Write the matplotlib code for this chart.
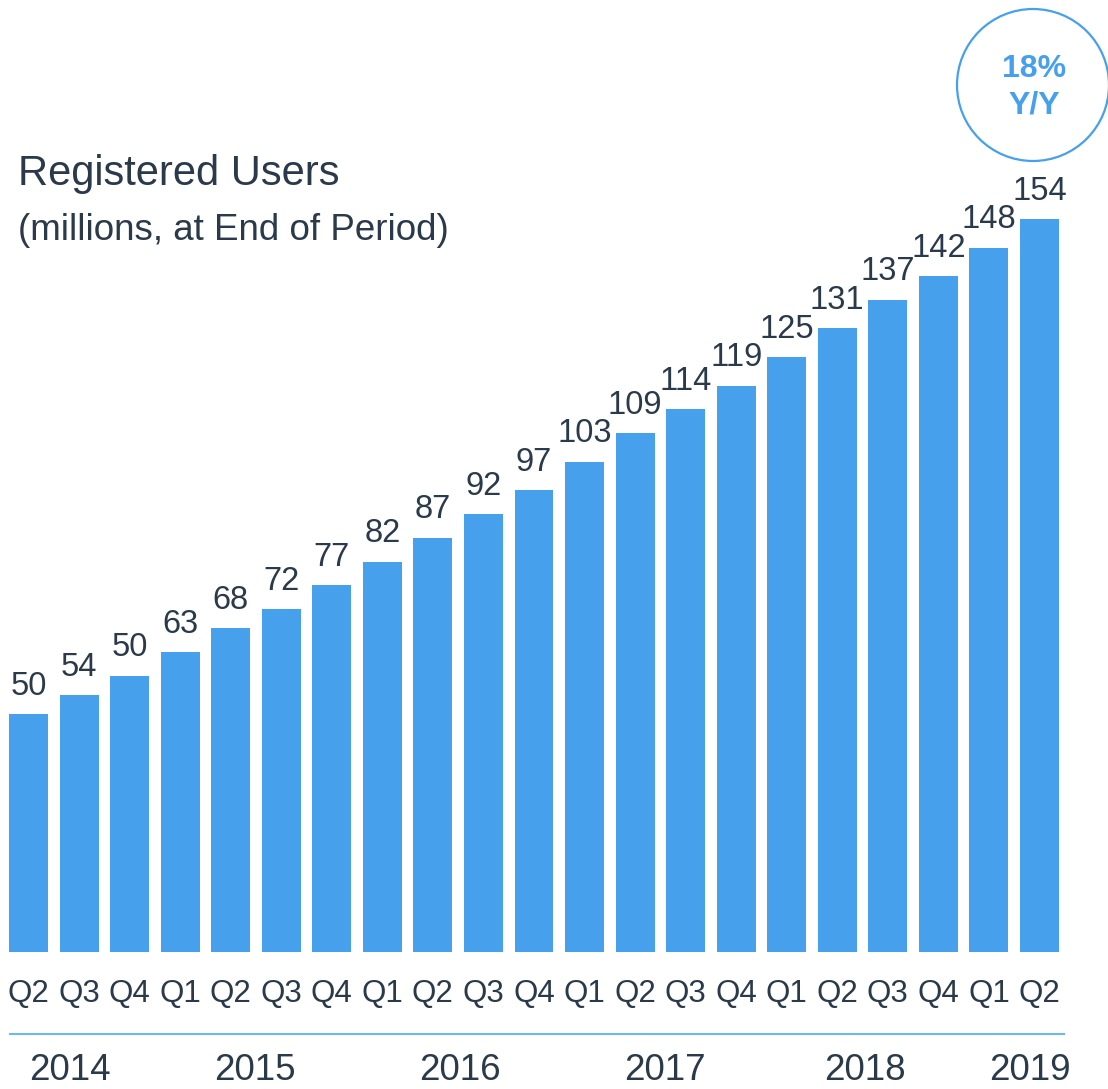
import matplotlib
matplotlib.use("Agg")
import matplotlib.pyplot as plt
from matplotlib.patches import Ellipse
from matplotlib.lines import Line2D

# bar heights (the 3rd bar is drawn taller than its "50" label)
quarters = ["Q2", "Q3", "Q4", "Q1", "Q2", "Q3", "Q4", "Q1", "Q2", "Q3", "Q4",
            "Q1", "Q2", "Q3", "Q4", "Q1", "Q2", "Q3", "Q4", "Q1", "Q2"]
heights = [50, 54, 58, 63, 68, 72, 77, 82, 87, 92, 97,
           103, 109, 114, 119, 125, 131, 137, 142, 148, 154]
value_labels = ["50", "54", "50", "63", "68", "72", "77", "82", "87", "92", "97",
                "103", "109", "114", "119", "125", "131", "137", "142", "148", "154"]
years = ["2014", "2015", "2016", "2017", "2018", "2019"]
year_pos = [0.82, 4.48, 8.54, 12.59, 16.55, 19.81]

BLUE = "#47A0EC"
TEXT = "#2B3A4A"
W, H = 1108, 1089

plt.rcParams["font.family"] = ["Liberation Sans", "DejaVu Sans"]

fig = plt.figure(figsize=(W / 100, H / 100), dpi=100)
base = 952  # baseline pixel row from top
ax = fig.add_axes([0, (H - base) / H, 1, base / H])

x = list(range(len(heights)))
ax.bar(x, heights, width=0.77, color=BLUE)
for xi, h, lab in zip(x, heights, value_labels):
    ax.annotate(lab, (xi, h), xytext=(0, 14), textcoords="offset points",
                ha="center", va="baseline", fontsize=23.5, color=TEXT)

ax.set_xlim(-28.5 / 50.55, 20 + (W - 1039.5) / 50.55)
ax.set_ylim(0, base / 4.76)
ax.axis("off")

# quarter labels and years below the bars
trans = ax.get_xaxis_transform()
for xi, q in zip(x, quarters):
    ax.text(xi, (base - 994) / base, q, transform=trans, ha="center",
            va="center", fontsize=22.5, color=TEXT, clip_on=False)
for yp, yr in zip(year_pos, years):
    ax.text(yp, (base - 1071) / base, yr, transform=trans, ha="center",
            va="center", fontsize=26.5, color=TEXT, clip_on=False)

fig.add_artist(Line2D([10 / W, 1064 / W], [1 - 1034 / H, 1 - 1034 / H],
                      color="#72B6EE", lw=1.5, transform=fig.transFigure))

# title
fig.text(18 / W, 1 - 185 / H, "Registered Users", fontsize=30, color=TEXT,
         ha="left", va="baseline")
fig.text(18 / W, 1 - 240 / H, "(millions, at End of Period)", fontsize=26.5,
         color=TEXT, ha="left", va="baseline")

# growth badge
fig.add_artist(Ellipse((1033 / W, 1 - 85 / H), 152 / W, 152 / H, fill=False,
                       edgecolor=BLUE, lw=1.6, transform=fig.transFigure))
fig.text(1034 / W, 1 - 69 / H, "18%", fontsize=23, fontweight="bold",
         color=BLUE, ha="center", va="center")
fig.text(1034 / W, 1 - 106 / H, "Y/Y", fontsize=23, fontweight="bold",
         color=BLUE, ha="center", va="center")

fig.savefig("out.png", dpi=100)
